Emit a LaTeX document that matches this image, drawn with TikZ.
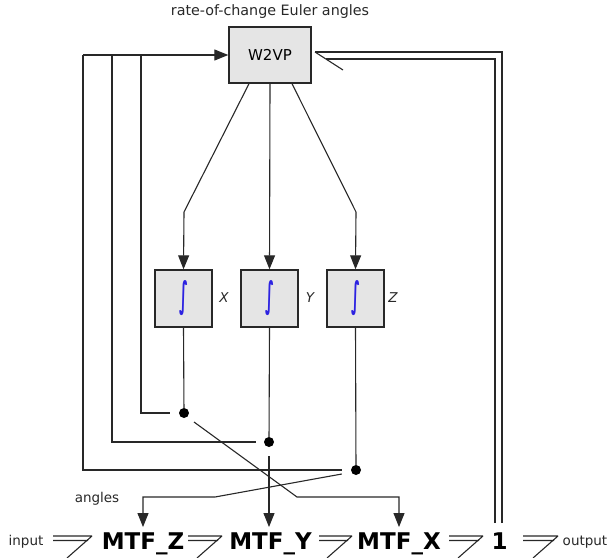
\documentclass[tikz,border=0pt]{standalone}
\usepackage{graphicx}
\usepackage{fontspec}
\setmainfont{DejaVu Sans}
\usetikzlibrary{arrows.meta}
\definecolor{ink}{RGB}{40,40,40}
\definecolor{intblue}{RGB}{45,35,225}
\definecolor{boxfill}{RGB}{229,229,229}
\newcommand\intglyph{\resizebox{9pt}{27pt}{\bfseries ∫}}
\begin{document}
\begin{tikzpicture}[x=1pt,y=-1pt,
  wire/.style={draw=ink, line width=1.1pt},
  arr/.style={wire, -{Triangle[length=14pt,width=11pt]}},
  blk/.style={draw=ink, line width=1.4pt, fill=boxfill, inner sep=0pt, minimum width=57pt, minimum height=57pt},
  dotn/.style={circle, fill=black, inner sep=0pt, minimum size=10pt},
  lbl/.style={font=\fontsize{13.5}{14}\selectfont, text=ink, inner sep=0pt},
  big/.style={font=\fontsize{23}{24}\selectfont\bfseries, text=black, inner sep=0pt},
  intsym/.style={text=intblue}
]
\useasboundingbox (0,0) rectangle (610,557);
\clip (0,0) rectangle (610,557);

% blocks
\node[lbl, font=\fontsize{14.3}{15}\selectfont] (title) at (270,12) {rate-of-change Euler angles};
\node[blk, minimum width=82pt, minimum height=56pt, font=\fontsize{15}{15}\selectfont] (w) at (270,55) {W2VP};
\node[blk, intsym] (ix) at (183.5,298.5) {\intglyph};
\node[blk, intsym] (iy) at (269.5,298.5) {\intglyph};
\node[blk, intsym] (iz) at (355.5,298.5) {\intglyph};
\node[lbl, font=\fontsize{13.5}{14}\selectfont\itshape] (lx) at (224,298) {X};
\node[lbl, font=\fontsize{13.5}{14}\selectfont\itshape] (ly) at (310,298) {Y};
\node[lbl, font=\fontsize{13.5}{14}\selectfont\itshape] (lz) at (393,298) {Z};

% junction dots
\node[dotn] (dx) at (184,413) {};
\node[dotn] (dy) at (269,442) {};
\node[dotn] (dz) at (356,470) {};

% bottom row
\node[lbl, anchor=base] (in) at (26,545) {input};
\node[big, anchor=base] (mz) at (143,549) {MTF\_Z};
\node[big, anchor=base] (my) at (270.5,549) {MTF\_Y};
\node[big, anchor=base] (mx) at (399,549) {MTF\_X};
\node[big, anchor=base] (one) at (499.5,549) {1};
\node[lbl, anchor=base] (out) at (585,545) {output};
\node[lbl, anchor=base] (ang) at (97,502) {angles};

% W2VP to integrators
\draw[arr] ([xshift=-21pt]w.south) -- (184,212) -- (ix.north);
\draw[arr] (w.south) -- (iy.north);
\draw[arr] ([xshift=22pt]w.south) -- (356,212) -- (iz.north);

% integrators to junctions
\draw[wire] (ix.south) -- (dx);
\draw[wire] (iy.south) -- (dy);
\draw[wire] (iz.south) -- (dz);

% feedback to W2VP
\coordinate (fb) at (83,55);
\draw[wire] ([xshift=-9pt]dx.west) -| (141,55);
\draw[wire] ([xshift=-8pt]dy.west) -| (112,55);
\draw[wire] ([xshift=-9pt]dz.west) -| (fb);
\draw[arr] (fb) -- (w.west);

% angles to MTF blocks
\draw[arr, shorten >=5pt] ([xshift=-9pt,yshift=-4pt]dz.west) -- (215,497) -| (mz.north);
\draw[arr, shorten >=5pt] ([yshift=-14pt]dy.center) -- (dy |- my.north);
\draw[arr, shorten >=5pt] ([xshift=10pt,yshift=-9pt]dx.center) -- (297,497) -| (mx.north);

% double-line (bus) arrows in the bottom row
\newcommand\busarrow[2]{%
  \draw[wire] (#1,536) -- (#2,536) (#1,540.5) -- (#2-4,540.5) (#2,536) -- ++(-25,22);}
\busarrow{53}{92}
\busarrow{188}{222}
\busarrow{319}{352}
\busarrow{449}{483}
\busarrow{523}{558}

% double-line feedback from 1 to W2VP
\coordinate (tipw) at (315,52);
\draw[wire] (502,523) -- (502,52) -- (tipw);
\draw[wire] (495,523) -- (495,59) -- (326,59);
\draw[wire] (tipw) -- ++(28,18);
\end{tikzpicture}
\end{document}
